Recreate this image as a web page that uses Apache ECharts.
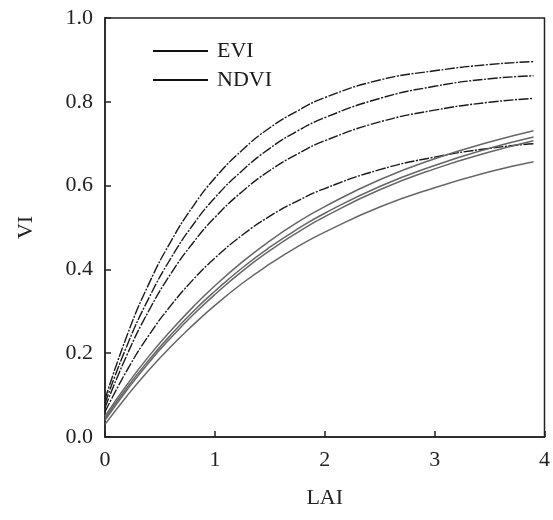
<!DOCTYPE html>
<html>
<head>
<meta charset="utf-8">
<script src="https://cdn.jsdelivr.net/npm/echarts@6/dist/echarts.min.js"></script>
<style>
html,body{margin:0;padding:0;background:#fff;}
#chart{width:553px;height:520px;}
</style>
</head>
<body>
<div id="chart"></div>
<script>
var lai   = [0, 0.2, 0.4, 0.6, 0.8, 1.0, 1.25, 1.5, 1.75, 2.0, 2.5, 3.0, 3.5, 3.9];
var evi1  = [0.09, 0.242, 0.366, 0.467, 0.550, 0.618, 0.685, 0.738, 0.778, 0.810, 0.852, 0.874, 0.889, 0.896];
var evi2  = [0.08, 0.218, 0.332, 0.427, 0.506, 0.571, 0.636, 0.689, 0.730, 0.762, 0.808, 0.837, 0.855, 0.862];
var evi3  = [0.07, 0.196, 0.302, 0.390, 0.463, 0.524, 0.586, 0.636, 0.675, 0.707, 0.752, 0.780, 0.799, 0.808];
var evi4  = [0.06, 0.159, 0.243, 0.314, 0.375, 0.427, 0.482, 0.527, 0.563, 0.593, 0.638, 0.668, 0.689, 0.700];
var ndvi1 = [0.05, 0.125, 0.193, 0.254, 0.310, 0.361, 0.418, 0.468, 0.512, 0.550, 0.614, 0.664, 0.704, 0.731];
var ndvi2 = [0.045, 0.118, 0.184, 0.244, 0.299, 0.348, 0.404, 0.453, 0.496, 0.534, 0.598, 0.648, 0.689, 0.716];
var ndvi3 = [0.04, 0.112, 0.178, 0.237, 0.291, 0.340, 0.396, 0.445, 0.488, 0.526, 0.590, 0.640, 0.680, 0.707];
var ndvi4 = [0.03, 0.098, 0.160, 0.216, 0.267, 0.314, 0.367, 0.413, 0.454, 0.489, 0.549, 0.595, 0.633, 0.657];
var xTicks = ['0', '1', '2', '3', '4'];
var yTicks = ['0.0', '0.2', '0.4', '0.6', '0.8', '1.0'];

var FONT = "'Liberation Serif','Times New Roman',serif";
function pairs(ys){ return lai.map(function(x,i){ return [x, ys[i]]; }); }

var eviSets = [evi1, evi2, evi3, evi4];
var ndviSets = [ndvi1, ndvi2, ndvi3, ndvi4];
var series = [];
eviSets.forEach(function(s){
  series.push({
    name: 'EVI', type: 'line', data: pairs(s), smooth: 0.5, showSymbol: false,
    color: '#000',
    lineStyle: { color: '#1a1a1a', width: 1.4, type: [10, 1.5, 2, 1.5] }
  });
});
ndviSets.forEach(function(s){
  series.push({
    name: 'NDVI', type: 'line', data: pairs(s), smooth: 0.5, showSymbol: false,
    color: '#000',
    lineStyle: { color: '#666', width: 1.5 }
  });
});

var chart = echarts.init(document.getElementById('chart'), null, {renderer: 'canvas'});
chart.setOption({
  animation: false,
  backgroundColor: '#fff',
  grid: { left: 105, right: 3, top: 18, bottom: 83, show: true, borderColor: '#222', borderWidth: 1.5, backgroundColor: 'transparent' },
  legend: {
    data: ['EVI', 'NDVI'],
    orient: 'vertical',
    left: 148, top: 35,
    icon: 'rect',
    itemWidth: 55, itemHeight: 2,
    itemGap: 7,
    itemStyle: { color: '#111', borderWidth: 0 },
    lineStyle: { type: 'solid', color: '#111', width: 2 },
    textStyle: { fontFamily: FONT, fontSize: 22, color: '#1a1a1a', padding: [0, 0, 0, 4] }
  },
  xAxis: {
    type: 'value', min: 0, max: 4, interval: 1,
    name: 'LAI', nameLocation: 'middle', nameGap: 50,
    nameTextStyle: { fontFamily: FONT, fontSize: 22, color: '#222' },
    axisLine: { show: true, lineStyle: { color: '#222', width: 1.5 } },
    axisTick: { show: true, inside: true, length: 6, lineStyle: { color: '#222', width: 1.5 } },
    axisLabel: { fontFamily: FONT, fontSize: 22, color: '#222', margin: 12,
      formatter: function(v){ return xTicks[Math.round(v)]; } },
    splitLine: { show: false }
  },
  yAxis: {
    type: 'value', min: 0, max: 1, interval: 0.2,
    name: 'VI', nameLocation: 'middle', nameGap: 68, nameRotate: 90,
    nameTextStyle: { fontFamily: FONT, fontSize: 22, color: '#222' },
    axisLine: { show: true, lineStyle: { color: '#222', width: 1.5 } },
    axisTick: { show: true, inside: true, length: 6, lineStyle: { color: '#222', width: 1.5 } },
    axisLabel: { fontFamily: FONT, fontSize: 22, color: '#222', margin: 12,
      formatter: function(v){ return yTicks[Math.round(v * 5)]; } },
    splitLine: { show: false }
  },
  series: series
});
</script>
</body>
</html>
